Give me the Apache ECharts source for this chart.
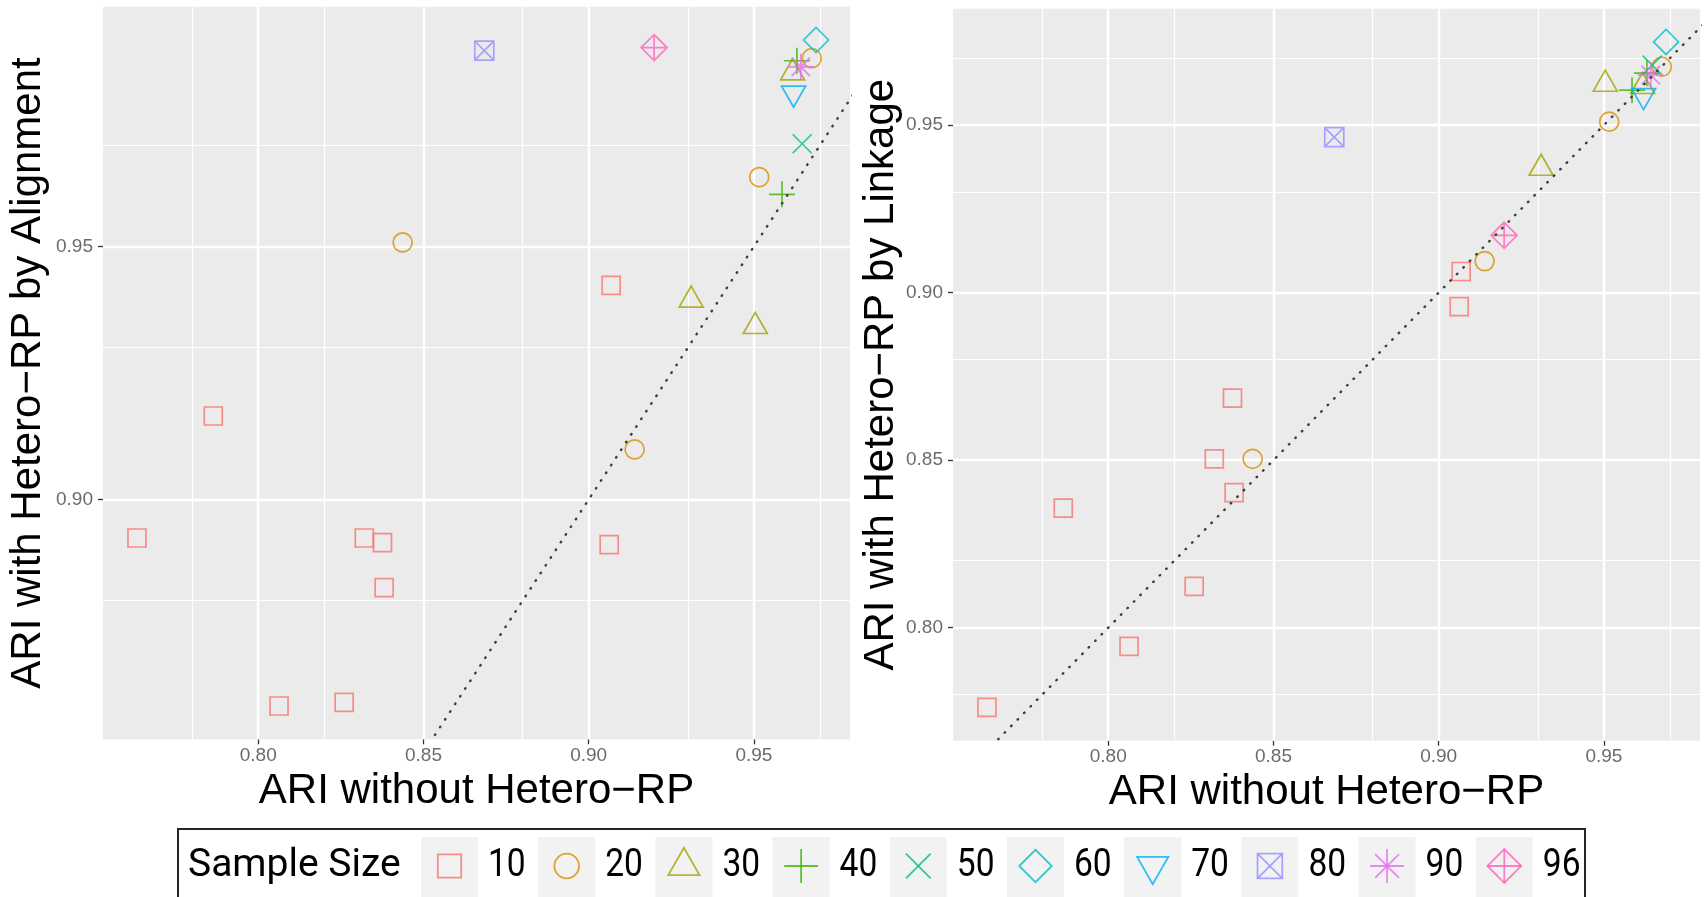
<!DOCTYPE html>
<html>
<head>
<meta charset="utf-8">
<script src="https://cdn.jsdelivr.net/npm/echarts@6/dist/echarts.min.js"></script>
<style>
  html, body { margin: 0; padding: 0; background: #ffffff; }
  #chart { width: 1704px; height: 897px; }
</style>
</head>
<body>
<div id="chart"></div>
<script>
// Sample-size groups, in legend order
const sampleSizes = ['10', '20', '30', '40', '50', '60', '70', '80', '90', '96'];
const groupColors = ['#F8766D', '#D89000', '#A3A500', '#39B600', '#00BF7D',
                     '#00BFC4', '#00B0F6', '#9590FF', '#E76BF3', '#FF62BC'];

// One entry per simulated data set: its sample size and the three ARI scores
const pointGroup = ['10', '10', '10', '10', '10', '10', '10', '10', '10',
                    '20', '20', '20', '20',
                    '30', '30', '30',
                    '40', '40',
                    '50', '60', '70', '80', '90', '96'];
const ariWithout = [0.7633, 0.7864, 0.8063, 0.8260, 0.8321, 0.8376, 0.8381, 0.9068, 0.9062,
                    0.8437, 0.9139, 0.9516, 0.9675,
                    0.9310, 0.9504, 0.9617,
                    0.9585, 0.9630,
                    0.9646, 0.9688, 0.9620, 0.8684, 0.9642, 0.9198];
const ariAlignment = [0.8924, 0.9165, 0.8592, 0.8599, 0.8924, 0.8915, 0.8826, 0.9423, 0.8911,
                      0.9508, 0.9099, 0.9637, 0.9872,
                      0.9394, 0.9342, 0.9843,
                      0.9603, 0.9867,
                      0.9703, 0.9908, 0.9803, 0.9887, 0.9855, 0.9893];
const ariLinkage = [0.7762, 0.8357, 0.7944, 0.8123, 0.8504, 0.8685, 0.8403, 0.9063, 0.8958,
                    0.8504, 0.9094, 0.9510, 0.9674,
                    0.9371, 0.9622, 0.9615,
                    0.9604, 0.9655,
                    0.9679, 0.9748, 0.9588, 0.9464, 0.9649, 0.9171];

// Labelled tick positions
const xTicks = [0.80, 0.85, 0.90, 0.95];
const alignTicks = [0.90, 0.95];
const linkTicks = [0.80, 0.85, 0.90, 0.95];

// Open point shapes as outline sub-paths in a 10-unit box:
// square, circle, triangle, plus, cross, diamond, down-triangle,
// boxed cross, asterisk, diamond-plus
const SQ = [[0, 0], [10, 0], [10, 10], [0, 10]];
const DM = [[5, 0], [10, 5], [5, 10], [0, 5]];
const HBAR = [[0, 5], [10, 5]], VBAR = [[5, 0], [5, 10]];
const D1 = [[0, 0], [10, 10]], D2 = [[10, 0], [0, 10]];
const S1 = [[1.46, 1.46], [8.54, 8.54]], S2 = [[8.54, 1.46], [1.46, 8.54]];
const shapes = [
  { parts: [{ pts: SQ, closed: true }], w: 18, h: 18, dy: 0 },
  { circle: true, w: 19, h: 19, dy: 0 },
  { parts: [{ pts: [[5, 0], [10, 8.66], [0, 8.66]], closed: true }], w: 24, h: 21, dy: -1 / 6 },
  { parts: [{ pts: HBAR }, { pts: VBAR }], w: 26, h: 26, dy: 0 },
  { parts: [{ pts: D1 }, { pts: D2 }], w: 19, h: 19, dy: 0 },
  { parts: [{ pts: DM, closed: true }], w: 25, h: 25, dy: 0 },
  { parts: [{ pts: [[0, 0], [10, 0], [5, 8.66]], closed: true }], w: 24, h: 21, dy: 1 / 6 },
  { parts: [{ pts: SQ, closed: true }, { pts: D1 }, { pts: D2 }], w: 19, h: 19, dy: 0 },
  { parts: [{ pts: HBAR }, { pts: VBAR }, { pts: S1 }, { pts: S2 }], w: 26, h: 26, dy: 0 },
  { parts: [{ pts: DM, closed: true }, { pts: HBAR }, { pts: VBAR }], w: 26, h: 26, dy: 0 }
];

function shapePath(sh) {
  if (sh.circle) return 'M0,5A5,5 0 1 1 10,5A5,5 0 1 1 0,5Z';
  return sh.parts.map(p =>
    p.pts.map((q, i) => (i ? 'L' : 'M') + q[0] + ',' + q[1]).join('') + (p.closed ? 'Z' : '')
  ).join('');
}

const POINT_ALPHA = 0.8;
const TICK_FONT = 'Liberation Sans';
const TITLE_FONT = 'Liberation Sans';
const LEGEND_FONT = 'Roboto';

// ggplot-style range: data extent widened by 5% on each side
function padded(vals) {
  const lo = Math.min(...vals), hi = Math.max(...vals);
  const pad = (hi - lo) * 0.05;
  return [lo - pad, hi + pad];
}

// Major lines at the ticks, minor lines half-way between (and just outside)
function gridValues(majors, range) {
  const step = majors.length > 1 ? majors[1] - majors[0] : 0.05;
  const minors = [];
  for (let v = majors[0] - step / 2; v <= range[1] + 1e-9; v += step) {
    if (v >= range[0]) minors.push(+v.toFixed(4));
  }
  const before = majors[0] - step * 1.5;
  if (before >= range[0]) minors.push(+before.toFixed(4));
  return { majors, minors };
}

const xRange = padded(ariWithout);
const alignRange = padded(ariAlignment);
const linkRange = padded(ariLinkage);

function gridMarkLines(xg, yg) {
  const major = { color: '#ffffff', width: 2.4, type: 'solid' };
  const minor = { color: '#ffffff', width: 1.2, type: 'solid' };
  const data = [];
  xg.minors.forEach(v => data.push({ xAxis: v, lineStyle: minor }));
  yg.minors.forEach(v => data.push({ yAxis: v, lineStyle: minor }));
  xg.majors.forEach(v => data.push({ xAxis: v, lineStyle: major }));
  yg.majors.forEach(v => data.push({ yAxis: v, lineStyle: major }));
  return data;
}

function panelSeries(idx, yVals, yTicks, yRange) {
  const list = [];
  list.push({
    type: 'scatter',
    xAxisIndex: idx, yAxisIndex: idx,
    data: [],
    silent: true,
    z: 1,
    markLine: {
      silent: true, z: 1, symbol: 'none', animation: false,
      label: { show: false },
      emphasis: { disabled: true },
      data: gridMarkLines(gridValues(xTicks, xRange), gridValues(yTicks, yRange))
    }
  });
  sampleSizes.forEach((size, g) => {
    const data = [];
    pointGroup.forEach((pg, i) => { if (pg === size) data.push([ariWithout[i], yVals[i]]); });
    const sh = shapes[g];
    list.push({
      type: 'scatter',
      name: size,
      xAxisIndex: idx, yAxisIndex: idx,
      data,
      z: 2,
      symbol: 'path://' + shapePath(sh),
      symbolSize: [sh.w, sh.h],
      symbolOffset: [0, sh.dy * sh.h],
      itemStyle: { color: 'rgba(0,0,0,0)', borderColor: groupColors[g], borderWidth: 1.7, opacity: POINT_ALPHA },
      emphasis: { disabled: true },
      silent: true
    });
  });
  // y = x reference line, clipped to the panel
  const lo = Math.min(xRange[0], yRange[0]), hi = Math.max(xRange[1], yRange[1]);
  list.push({
    type: 'line',
    xAxisIndex: idx, yAxisIndex: idx,
    data: [[lo, lo], [hi, hi]],
    showSymbol: false,
    symbol: 'none',
    clip: true,
    silent: true,
    z: 3,
    lineStyle: { color: '#3c3c3c', width: 2.4, type: [0.6, 8.6], cap: 'round' }
  });
  return list;
}

function xAxisFor(idx) {
  return {
    type: 'value', gridIndex: idx,
    min: xRange[0], max: xRange[1],
    axisLine: { show: false },
    axisTick: { show: true, length: 5, lineStyle: { color: '#333333', width: 1.3 }, customValues: xTicks },
    axisLabel: { customValues: xTicks, formatter: v => v.toFixed(2), color: '#6b6b6b',
                 fontFamily: TICK_FONT, fontSize: 19, margin: 7 },
    splitLine: { show: false },
    name: 'ARI without Hetero\u2212RP',
    nameLocation: 'middle', nameGap: 27,
    nameTextStyle: { color: '#000000', fontFamily: TITLE_FONT, fontSize: 42, lineHeight: 42 }
  };
}

function yAxisFor(idx, range, ticks, title, gap) {
  return {
    type: 'value', gridIndex: idx,
    min: range[0], max: range[1],
    axisLine: { show: false },
    axisTick: { show: true, length: 5, lineStyle: { color: '#333333', width: 1.3 }, customValues: ticks },
    axisLabel: { customValues: ticks, formatter: v => v.toFixed(2), color: '#6b6b6b',
                 fontFamily: TICK_FONT, fontSize: 19, margin: 10 },
    splitLine: { show: false },
    name: title,
    nameLocation: 'middle', nameGap: gap, nameRotate: 90,
    nameTextStyle: { color: '#000000', fontFamily: TITLE_FONT, fontSize: 42, lineHeight: 42 }
  };
}

// Legend drawn as a boxed row of grey keys
function legendElements() {
  const els = [];
  els.push({ type: 'rect', shape: { x: 178, y: 829, width: 1407, height: 100 },
             style: { fill: '#ffffff', stroke: '#262626', lineWidth: 2 }, z: 10 });
  els.push({ type: 'text', x: 188, y: 866, z: 11,
             style: { text: 'Sample Size', fill: '#000000', fontFamily: LEGEND_FONT, fontSize: 39,
                      align: 'left', verticalAlign: 'middle' } });
  const keyLeft = 421, keyStep = 117.2, keyW = 57, scale = 1.3;
  sampleSizes.forEach((size, g) => {
    const kx = keyLeft + g * keyStep;
    const cx = kx + keyW / 2, cy = 866;
    const sh = shapes[g];
    const w = sh.w * scale, h = sh.h * scale;
    const stroke = { fill: 'none', stroke: groupColors[g], lineWidth: 1.8, opacity: POINT_ALPHA };
    els.push({ type: 'rect', shape: { x: kx, y: 837, width: keyW, height: 70 },
               style: { fill: '#F2F2F2' }, z: 11 });
    if (sh.circle) {
      els.push({ type: 'circle', z: 12, shape: { cx, cy, r: w / 2 }, style: stroke });
    } else {
      const all = [].concat(...sh.parts.map(p => p.pts));
      const minX = Math.min(...all.map(q => q[0])), maxX = Math.max(...all.map(q => q[0]));
      const minY = Math.min(...all.map(q => q[1])), maxY = Math.max(...all.map(q => q[1]));
      const x0 = cx - w / 2, y0 = cy - h / 2 + sh.dy * h;
      sh.parts.forEach(p => {
        const points = p.pts.map(q => [x0 + (q[0] - minX) / (maxX - minX) * w,
                                       y0 + (q[1] - minY) / (maxY - minY) * h]);
        els.push({ type: p.closed ? 'polygon' : 'polyline', z: 12, shape: { points }, style: stroke });
      });
    }
    // narrow, tall legend digits
    els.push({ type: 'text', x: kx + 67, y: 866, z: 12, scaleX: 0.86,
               style: { text: size, fill: '#000000', fontFamily: LEGEND_FONT, fontSize: 39,
                        align: 'left', verticalAlign: 'middle' } });
  });
  return els;
}

const chart = echarts.init(document.getElementById('chart'), null, { renderer: 'canvas' });
chart.setOption({
  animation: false,
  backgroundColor: '#ffffff',
  grid: [
    { left: 103, top: 6.7, width: 747, height: 732.6, show: true, backgroundColor: '#EBEBEB',
      borderWidth: 0, containLabel: false, outerBoundsMode: 'none' },
    { left: 953, top: 8.7, width: 747, height: 732, show: true, backgroundColor: '#EBEBEB',
      borderWidth: 0, containLabel: false, outerBoundsMode: 'none' }
  ],
  xAxis: [xAxisFor(0), xAxisFor(1)],
  yAxis: [
    yAxisFor(0, alignRange, alignTicks, 'ARI with Hetero\u2212RP by Alignment', 54),
    yAxisFor(1, linkRange, linkTicks, 'ARI with Hetero\u2212RP by Linkage', 51)
  ],
  series: [
    ...panelSeries(0, ariAlignment, alignTicks, alignRange),
    ...panelSeries(1, ariLinkage, linkTicks, linkRange)
  ],
  graphic: { elements: legendElements() }
});
</script>
</body>
</html>
